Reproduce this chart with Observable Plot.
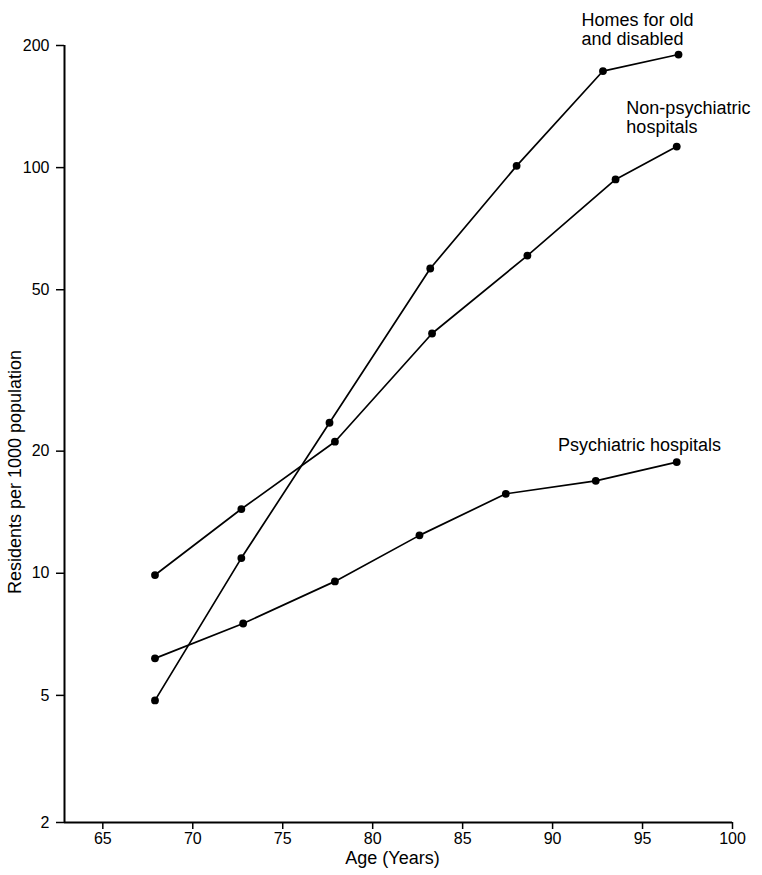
<!DOCTYPE html>
<html>
<head>
<meta charset="utf-8">
<script src="https://cdn.jsdelivr.net/npm/d3@7"></script>
<script src="https://cdn.jsdelivr.net/npm/@observablehq/plot@0.6"></script>
<style>
  body { margin: 0; background: #fff; }
  svg { font-family: "Liberation Sans", Arial, Helvetica, sans-serif; }
</style>
</head>
<body>
<div id="chart"></div>
<script>
// Series data (age midpoint, residents per 1000 population)
const homesAge   = [67.9, 72.7, 77.6, 83.2, 88.0, 92.8, 97.0];
const homesRate  = [4.86, 10.9, 23.5, 56.4, 101, 173, 190];
const nonPsyAge  = [67.9, 72.7, 77.9, 83.3, 88.6, 93.5, 96.9];
const nonPsyRate = [9.9, 14.4, 21.1, 39.0, 60.7, 93.5, 112.7];
const psyAge     = [67.9, 72.8, 77.9, 82.6, 87.4, 92.4, 96.9];
const psyRate    = [6.17, 7.52, 9.55, 12.4, 15.7, 16.9, 18.8];

const seriesNames = ["Homes for old\nand disabled", "Non-psychiatric\nhospitals", "Psychiatric hospitals"];
const labelX = [91.6, 94.1, 90.3];
const labelY = [219.6, 132.9, 20.7];

const xTicks = [65, 70, 75, 80, 85, 90, 95, 100];
const xDomain = [62.87, 100];
const yTicks = [2.43, 5, 10, 20, 50, 100, 200];
const yTickLabels = ["2", "5", "10", "20", "50", "100", "200"];
const yDomain = [2.43, 200];

const xTitle = "Age (Years)";
const yTitle = "Residents per 1000 population";

const toRows = (name, xs, ys) => xs.map((x, i) => ({series: name, age: x, rate: ys[i]}));
const rows = [
  ...toRows("homes", homesAge, homesRate),
  ...toRows("nonpsy", nonPsyAge, nonPsyRate),
  ...toRows("psy", psyAge, psyRate)
];
const labels = seriesNames.map((t, i) => ({text: t, x: labelX[i], y: labelY[i]}));
const yLabelMap = new Map(yTicks.map((t, i) => [t, yTickLabels[i]]));

const chart = Plot.plot({
  width: 762,
  height: 875,
  marginTop: 45,
  marginBottom: 53,
  marginLeft: 64,
  marginRight: 30,
  style: {fontFamily: "'Liberation Sans', Arial, Helvetica, sans-serif", fontSize: "16px", background: "#fff", color: "#000"},
  x: {domain: xDomain},
  y: {type: "log", domain: yDomain},
  marks: [
    Plot.axisX({ticks: xTicks, tickSize: 7, tickPadding: 3, fontSize: 16, label: null, tickFormat: d => String(d), stroke: "#000", strokeWidth: 1.5}),
    Plot.axisY({ticks: yTicks, tickSize: 8, tickPadding: 7, fontSize: 16, label: null, tickFormat: d => yLabelMap.get(d), stroke: "#000", strokeWidth: 1.5}),
    Plot.ruleX([xDomain[0]], {stroke: "#000", strokeWidth: 2}),
    Plot.ruleY([yDomain[0]], {stroke: "#000", strokeWidth: 2}),
    Plot.line(rows, {x: "age", y: "rate", z: "series", stroke: "#000", strokeWidth: 1.7}),
    Plot.dot(rows, {x: "age", y: "rate", r: 3.9, fill: "#000", stroke: "none"}),
    Plot.text(labels, {x: "x", y: "y", text: "text", textAnchor: "start", lineAnchor: "middle", lineHeight: 1.08, fontSize: 18, fill: "#000"}),
    Plot.text([yTitle], {frameAnchor: "left", dx: -49, dy: 38, rotate: -90, textAnchor: "middle", lineAnchor: "middle", fontSize: 18, fill: "#000"}),
    Plot.text([xTitle], {frameAnchor: "bottom", dx: -6, dy: 36, textAnchor: "middle", lineAnchor: "middle", fontSize: 18, fill: "#000"})
  ]
});
document.getElementById("chart").appendChild(chart);
</script>
</body>
</html>
